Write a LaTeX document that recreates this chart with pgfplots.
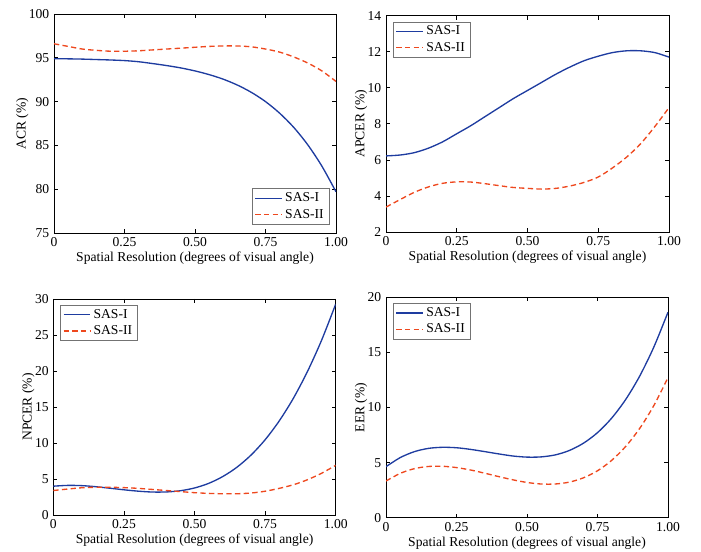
\documentclass[border=0pt]{standalone}
\usepackage{pgfplots}
\pgfplotsset{compat=1.18}
\usepackage{fontspec}
\setmainfont{Liberation Serif}

\definecolor{sasone}{RGB}{30,60,160}
\definecolor{sastwo}{RGB}{238,72,30}

\pgfplotsset{
  matlab/.style={
    scale only axis,
    font=\fontsize{10.2}{11}\selectfont,
    /pgf/number format/assume math mode=true,
    tick align=inside,
    major tick length=3pt,
    xmin=0, xmax=1,
    xtick={0,0.25,0.5,0.75,1},
    xticklabels={0,0.25,0.50,0.75,1.00},
    xlabel={Spatial Resolution (degrees of visual angle)},
    axis line style={line width=0.5pt},
    every tick/.style={black, line width=0.5pt},
    legend cell align=left,
    legend style={draw=black!55, font=\fontsize{10.2}{11}\selectfont,
      inner xsep=2pt, inner ysep=1pt, row sep=0pt},
    legend image code/.code={\draw[##1] (0pt,0pt) -- (20pt,0pt);},
    xlabel style={yshift=3pt},
    ylabel style={yshift=-6.5pt},
  },
  one/.style={color=sasone, line width=1pt, smooth},
  two/.style={color=sastwo, line width=1pt, smooth, dash pattern=on 4pt off 2.5pt},
}

\begin{document}
\begin{tikzpicture}
\path[use as bounding box] (0,0) rectangle (525.75pt,414pt);

% ACR
\begin{axis}[matlab, at={(40.5pt,239.25pt)}, anchor=south west,
  width=211.5pt, height=164.25pt,
  ymin=75, ymax=100, ytick={75,80,...,100},
  ylabel={ACR (\%)},
  legend style={at={(1,0)}, anchor=south east, xshift=-5pt, yshift=6.5pt}]
\addplot[one] coordinates {
(0,94.9)(0.05,94.88)(0.1,94.85)(0.15,94.8)(0.2,94.75)(0.25,94.68)(0.3,94.55)
(0.35,94.34)(0.4,94.11)(0.45,93.84)(0.5,93.5)(0.55,93.08)(0.6,92.56)(0.65,91.89)
(0.7,91.05)(0.75,90.0)(0.8,88.68)(0.85,87.06)(0.9,85.06)(0.95,82.63)(1,79.7)};
\addlegendentry{SAS-I}
\addplot[two] coordinates {
(0,96.6)(0.05,96.3)(0.1,96.0)(0.15,95.85)(0.2,95.75)(0.25,95.75)(0.3,95.8)
(0.35,95.9)(0.4,96.0)(0.45,96.1)(0.5,96.2)(0.55,96.3)(0.6,96.35)(0.65,96.35)
(0.7,96.25)(0.75,96.0)(0.8,95.65)(0.85,95.1)(0.9,94.4)(0.95,93.5)(1,92.3)};
\addlegendentry{SAS-II}
\end{axis}

% APCER
\begin{axis}[matlab, at={(289.5pt,240pt)}, anchor=south west,
  width=212.25pt, height=162.25pt,
  ymin=2, ymax=14, ytick={2,4,...,14},
  ylabel={APCER (\%)},
  legend style={at={(0,1)}, anchor=north west, xshift=5pt, yshift=-4.5pt}]
\addplot[one] coordinates {
(0,6.22)(0.05,6.27)(0.1,6.4)(0.15,6.65)(0.2,7.0)(0.25,7.45)(0.3,7.9)
(0.35,8.4)(0.4,8.9)(0.45,9.4)(0.5,9.85)(0.55,10.3)(0.6,10.75)(0.65,11.15)
(0.7,11.5)(0.75,11.75)(0.8,11.95)(0.85,12.05)(0.9,12.05)(0.95,11.95)(1,11.7)};
\addlegendentry{SAS-I}
\addplot[two] coordinates {
(0,3.38)(0.05,3.8)(0.1,4.2)(0.15,4.5)(0.2,4.7)(0.25,4.78)(0.3,4.77)
(0.35,4.68)(0.4,4.57)(0.45,4.47)(0.5,4.42)(0.55,4.38)(0.6,4.42)(0.65,4.55)
(0.7,4.75)(0.75,5.05)(0.8,5.55)(0.85,6.15)(0.9,6.9)(0.95,7.85)(1,8.9)};
\addlegendentry{SAS-II}
\end{axis}

% NPCER
\begin{axis}[matlab, at={(40pt,27.75pt)}, anchor=south west,
  width=211.8pt, height=162pt,
  ymin=0, ymax=30, ytick={0,5,...,30},
  ylabel={NPCER (\%)},
  legend style={at={(0,1)}, anchor=north west, xshift=5pt, yshift=-4.5pt}]
\addplot[one] coordinates {
(0,4.0)(0.05,4.11)(0.1,4.08)(0.15,3.93)(0.2,3.72)(0.25,3.5)(0.3,3.31)
(0.35,3.19)(0.4,3.2)(0.45,3.37)(0.5,3.75)(0.55,4.39)(0.6,5.34)(0.65,6.63)
(0.7,8.32)(0.75,10.45)(0.8,13.07)(0.85,16.21)(0.9,19.94)(0.95,24.28)(1,29.3)};
\addlegendentry{SAS-I}
\addplot[two] coordinates {
(0,3.4)(0.05,3.6)(0.1,3.78)(0.15,3.85)(0.2,3.85)(0.25,3.8)(0.3,3.7)
(0.35,3.55)(0.4,3.4)(0.45,3.25)(0.5,3.1)(0.55,3.0)(0.6,2.95)(0.65,2.95)
(0.7,3.05)(0.75,3.3)(0.8,3.7)(0.85,4.2)(0.9,4.9)(0.95,5.8)(1,6.9)};
\addlegendentry{SAS-II}
\end{axis}

% EER
\begin{axis}[matlab, at={(289.5pt,25.7pt)}, anchor=south west,
  width=211.5pt, height=165.3pt,
  ymin=0, ymax=20, ytick={0,5,...,20},
  ylabel={EER (\%)},
  legend style={at={(0,1)}, anchor=north west, xshift=5pt, yshift=-4.5pt}]
\addplot[one] coordinates {
(0,4.63)(0.05,5.45)(0.1,5.99)(0.15,6.29)(0.2,6.39)(0.25,6.35)(0.3,6.2)
(0.35,6.0)(0.4,5.79)(0.45,5.6)(0.5,5.5)(0.55,5.52)(0.6,5.7)(0.65,6.1)
(0.7,6.76)(0.75,7.72)(0.8,9.03)(0.85,10.73)(0.9,12.87)(0.95,15.5)(1,18.65)};
\addlegendentry{SAS-I}
\addplot[two] coordinates {
(0,3.33)(0.05,4.02)(0.1,4.45)(0.15,4.65)(0.2,4.67)(0.25,4.55)(0.3,4.33)
(0.35,4.04)(0.4,3.73)(0.45,3.44)(0.5,3.2)(0.55,3.06)(0.6,3.06)(0.65,3.23)
(0.7,3.62)(0.75,4.26)(0.8,5.2)(0.85,6.47)(0.9,8.12)(0.95,10.19)(1,12.71)};
\addlegendentry{SAS-II}
\end{axis}
\end{tikzpicture}
\end{document}
